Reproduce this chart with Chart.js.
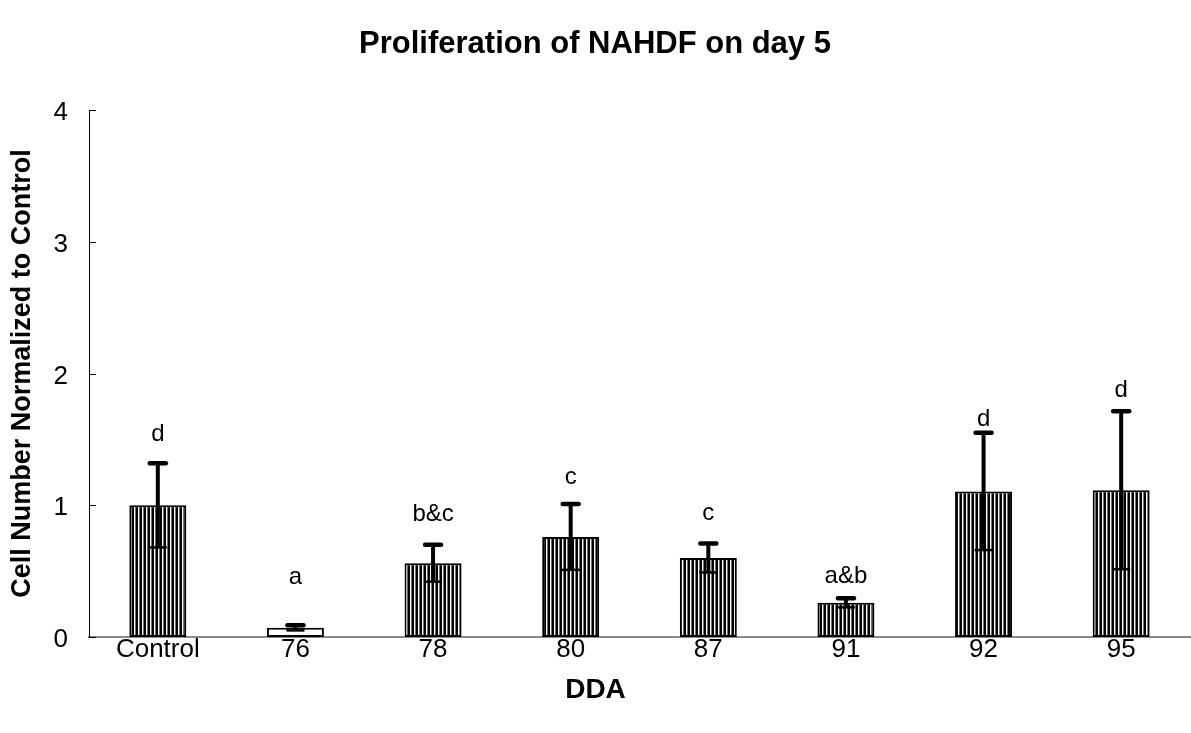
<!DOCTYPE html>
<html>
<head>
<meta charset="utf-8">
<script src="https://cdn.jsdelivr.net/npm/chart.js@4/dist/chart.umd.min.js"></script>
<style>
  html, body { margin: 0; padding: 0; background: #ffffff; }
  #wrap { width: 1191px; height: 733px; }
</style>
</head>
<body>
<div id="wrap"><canvas id="c" width="1191" height="733"></canvas></div>
<script>
// ---- data ----
const categories = ['Control', '76', '78', '80', '87', '91', '92', '95'];
const means      = [1.00, 0.07, 0.56, 0.76, 0.60, 0.26, 1.105, 1.115];
const errors     = [0.32, 0.02, 0.14, 0.25, 0.11, 0.035, 0.445, 0.60];
const letters    = ['d', 'a', 'b&c', 'c', 'c', 'a&b', 'd', 'd'];
const letterY    = [1.535, 0.45, 0.93, 1.21, 0.936, 0.459, 1.656, 1.876];
const yTickValues = [0, 1, 2, 3, 4];
const xTitle = 'DDA';

const FONT = "'Liberation Sans', Arial, sans-serif";

// vertical stripe pattern
function makePattern(ctx) {
  const pc = document.createElement('canvas');
  pc.width = 4; pc.height = 4;
  const p = pc.getContext('2d');
  p.fillStyle = '#000';
  p.fillRect(0, 0, 4, 4);
  p.fillStyle = '#ffffff';
  p.fillRect(2, 0, 1, 4);
  p.fillStyle = '#6e6e6e';
  p.fillRect(3, 0, 1, 4);
  return ctx.createPattern(pc, 'repeat');
}

const canvas = document.getElementById('c');
const ctx = canvas.getContext('2d');
const stripes = makePattern(ctx);
const fills = means.map((v, i) => (i === 1 ? '#ffffff' : stripes));

const errorBarPlugin = {
  id: 'errorBars',
  afterDatasetsDraw(chart) {
    const c = chart.ctx;
    const xs = chart.scales.x, ys = chart.scales.y;
    c.save();
    c.strokeStyle = '#000';
    means.forEach((v, i) => {
      const x = xs.getPixelForValue(i);
      const yt = ys.getPixelForValue(v + errors[i]);
      const yb = ys.getPixelForValue(v - errors[i]);
      c.lineCap = 'butt';
      c.lineWidth = 4;
      c.beginPath(); c.moveTo(x, yb); c.lineTo(x, yt); c.stroke();
      c.lineCap = 'round';
      c.lineWidth = 4.5;
      c.beginPath(); c.moveTo(x - 8, yt); c.lineTo(x + 8, yt); c.stroke();
      c.lineCap = 'butt';
      c.lineWidth = 2.5;
      c.beginPath(); c.moveTo(x - 9, yb); c.lineTo(x + 9, yb); c.stroke();
    });
    // significance letters
    c.fillStyle = '#000';
    c.font = '24px ' + FONT;
    c.textAlign = 'center';
    c.textBaseline = 'middle';
    letters.forEach((t, i) => {
      c.fillText(t, xs.getPixelForValue(i), ys.getPixelForValue(letterY[i]));
    });
    // x axis title, centred on the canvas
    c.font = 'bold 28px ' + FONT;
    c.fillText(xTitle, chart.width / 2, 690);
    // inward y ticks
    c.strokeStyle = '#000';
    c.lineWidth = 1;
    yTickValues.forEach(v => {
      const y = Math.round(ys.getPixelForValue(v)) + 0.5;
      c.beginPath(); c.moveTo(xs.left, y); c.lineTo(xs.left + 7, y); c.stroke();
    });
    c.restore();
  }
};

new Chart(ctx, {
  type: 'bar',
  data: {
    labels: categories,
    datasets: [{
      data: means,
      backgroundColor: fills,
      borderColor: '#000',
      borderWidth: 2,
      borderSkipped: false,
      categoryPercentage: 1.0,
      barPercentage: 0.414
    }]
  },
  options: {
    responsive: false,
    devicePixelRatio: 1,
    animation: false,
    layout: { padding: { left: 0, right: 1, top: 0, bottom: 0 } },
    plugins: {
      legend: { display: false },
      tooltip: { enabled: false },
      title: {
        display: true,
        text: 'Proliferation of NAHDF on day 5',
        color: '#000',
        font: { family: FONT, size: 31, weight: 'bold' },
        padding: { top: 26, bottom: 47 }
      }
    },
    scales: {
      x: {
        grid: { display: false, drawTicks: false },
        border: { display: true, color: '#8a8a8a', width: 2 },
        ticks: { color: '#000', font: { family: FONT, size: 26 }, padding: -3, maxRotation: 0 },
        title: { display: false },
        afterFit(scale) { scale.height = 96; }
      },
      y: {
        min: 0, max: 4,
        grid: { display: false, drawTicks: false },
        border: { display: true, color: '#000', width: 1 },
        ticks: {
          color: '#000', font: { family: FONT, size: 26 }, padding: 21, labelOffset: 3,
          stepSize: 1,
          callback: (v) => (yTickValues.includes(v) ? String(v) : '')
        },
        title: {
          display: true, text: 'Cell Number Normalized to Control', color: '#000',
          font: { family: FONT, size: 27, weight: 'bold' },
          padding: { top: 6, bottom: 6 }
        },
        afterFit(scale) { scale.width = 89; }
      }
    }
  },
  plugins: [errorBarPlugin]
});
</script>
</body>
</html>
